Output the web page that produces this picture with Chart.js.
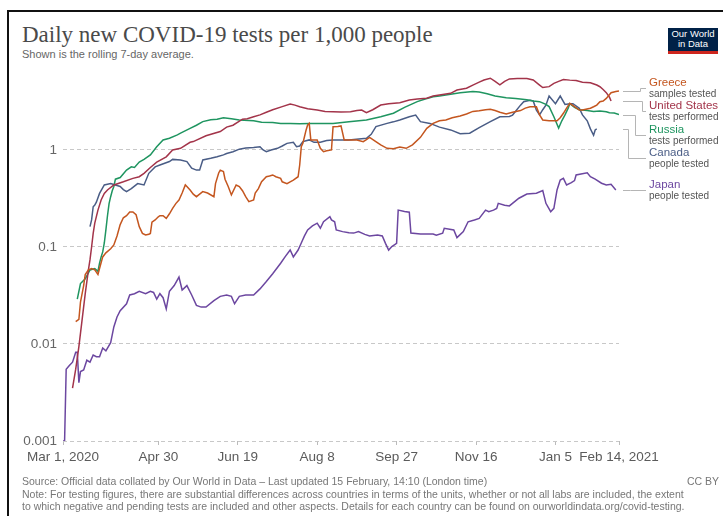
<!DOCTYPE html>
<html>
<head>
<meta charset="utf-8">
<title>Daily new COVID-19 tests per 1,000 people</title>
<script src="https://cdn.jsdelivr.net/npm/chart.js@4.4.1/dist/chart.umd.min.js"></script>
<style>
  html, body { margin: 0; padding: 0; background: #fff; }
  #page { position: relative; width: 723px; height: 516px; overflow: hidden; font-family: "Liberation Sans", Arial, sans-serif; }
  #frame { position: absolute; left: 7px; top: 10px; right: -4px; bottom: -4px; border-left: 2px solid #111; border-top: 2px solid #111; }
  #chart-box { position: absolute; left: 0; top: 0; width: 723px; height: 516px; }
  .title { position: absolute; left: 22px; top: 22px; font-family: "Liberation Serif", "DejaVu Serif", serif; font-size: 23px; color: #4a4a4a; white-space: nowrap; }
  .subtitle { position: absolute; left: 22px; top: 48px; font-size: 11px; color: #666; white-space: nowrap; }
  .logo { position: absolute; left: 668px; top: 28px; width: 50px; height: 22px; background: #002147; border-bottom: 3px solid #ce261e;
          color: #fff; font-family: "Liberation Sans Narrow", "Liberation Sans", sans-serif; font-size: 9.5px; line-height: 10px; text-align: center; padding-top: 1px; box-sizing: content-box; }
  .foot { position: absolute; left: 22px; font-size: 10.5px; color: #777; white-space: nowrap; }
  .cc { position: absolute; right: 4px; top: 475px; font-size: 10.5px; color: #777; }
</style>
</head>
<body>
<div id="page">
  <div id="frame"></div>
  <div class="title">Daily new COVID-19 tests per 1,000 people</div>
  <div class="subtitle">Shown is the rolling 7-day average.</div>
  <div class="logo">Our World<br>in Data</div>
  <div id="chart-box"><canvas id="tests-chart"></canvas></div>
  <div class="foot" style="top:475px">Source: Official data collated by Our World in Data – Last updated 15 February, 14:10 (London time)</div>
  <div class="cc">CC BY</div>
  <div class="foot" style="top:488px">Note: For testing figures, there are substantial differences across countries in terms of the units, whether or not all labs are included, the extent</div>
  <div class="foot" style="top:500px">to which negative and pending tests are included and other aspects. Details for each country can be found on ourworldindata.org/covid-testing.</div>
</div>

<script>
// x values are days counted from Mar 1, 2020
var xTickDays = [0, 60, 110, 160, 210, 260, 310, 350];
var xTickLabels = ['Mar 1, 2020', 'Apr 30', 'Jun 19', 'Aug 8', 'Sep 27', 'Nov 16', 'Jan 5', 'Feb 14, 2021'];
var yTickValues = [0.001, 0.01, 0.1, 1];
var yTickLabels = ['0.001', '0.01', '0.1', '1'];

var countries = ['Greece', 'United States', 'Russia', 'Canada', 'Japan'];
var units = ['samples tested', 'tests performed', 'tests performed', 'people tested', 'people tested'];

var greeceDays = [8, 10, 11, 13, 14, 16, 18, 20, 22, 23, 25, 27, 30, 32, 34, 36, 38, 40, 42, 44, 46, 48, 50, 52, 54, 55, 56, 58, 60, 61,
  63, 65, 67, 69, 71, 73, 75, 77, 78, 80, 82, 84, 86, 88, 91, 95, 96, 98, 99, 101, 102, 104, 106, 109, 111, 113, 115, 117, 120, 121,
  123, 125, 128, 130, 132, 134, 137, 138, 141, 143, 145, 148, 149, 150, 151, 152, 153, 154, 155, 156, 160, 162, 164, 166, 169, 170, 173, 175, 177, 181,
  185, 189, 191, 193, 196, 200, 204, 208, 212, 216, 220, 225, 229, 233, 237, 241, 245, 250, 254, 258, 262, 266, 269, 272, 275, 279, 283, 288, 291, 294,
  298, 300, 302, 306, 311, 313, 315, 317, 319, 322, 325, 327, 332, 334, 336, 338, 340, 342, 345, 348, 350];
var greeceTests = [0.017, 0.018, 0.027, 0.040, 0.052, 0.058, 0.060, 0.058, 0.052, 0.060, 0.079, 0.087, 0.096, 0.105, 0.13, 0.17, 0.2, 0.21, 0.23, 0.23, 0.215, 0.162, 0.138, 0.133, 0.135, 0.138, 0.18, 0.19, 0.205, 0.21,
  0.21, 0.197, 0.22, 0.25, 0.28, 0.305, 0.36, 0.436, 0.42, 0.387, 0.35, 0.33, 0.35, 0.372, 0.36, 0.33, 0.45, 0.58, 0.62, 0.60, 0.5, 0.42, 0.344, 0.436, 0.42, 0.38, 0.33, 0.293, 0.305, 0.36,
  0.40, 0.47, 0.53, 0.54, 0.553, 0.53, 0.51, 0.47, 0.45, 0.47, 0.49, 0.53, 0.7, 1.08, 1.17, 1.37, 1.6, 1.81, 1.88, 1.27, 1.27, 1.04, 0.96, 0.98, 1.0, 1.74, 1.75, 1.77, 1.27, 1.27,
  1.27, 1.22, 1.28, 1.35, 1.25, 1.13, 1.04, 1.03, 1.07, 1.04, 1.13, 1.35, 1.67, 1.88, 2.0, 2.04, 2.15, 2.24, 2.35, 2.5, 2.54, 2.6, 2.63, 2.55, 2.45, 2.35, 2.45, 2.55, 2.7, 2.79,
  2.79, 2.3, 2.04, 2.0, 2.0, 2.15, 2.39, 2.7, 3.03, 2.8, 2.58, 2.58, 2.69, 2.79, 2.9, 3.15, 3.2, 3.4, 3.9, 4.0, 4.05];

var usDays = [6, 8, 10, 12, 14, 16, 17, 18, 19, 20, 22, 24, 26, 28, 32, 38, 44, 48, 51, 55, 59, 65, 69, 74, 80, 82, 90, 99, 103, 107,
  113, 116, 120, 124, 128, 132, 138, 143, 146, 149, 154, 160, 165, 170, 175, 181, 185, 188, 191, 195, 200, 205, 212, 218, 223, 229, 233, 237, 244, 248,
  254, 258, 262, 265, 269, 272, 275, 278, 281, 286, 292, 296, 300, 302, 306, 309, 312, 315, 319, 323, 327, 332, 336, 338, 340, 342, 344, 345];
var usTests = [0.0035, 0.0055, 0.0094, 0.0176, 0.033, 0.058, 0.074, 0.10, 0.138, 0.176, 0.24, 0.305, 0.357, 0.387, 0.436, 0.47, 0.51, 0.53, 0.575, 0.66, 0.75, 0.85, 1.0, 1.04, 1.2, 1.22, 1.4, 1.55, 1.72, 1.8,
  2.08, 2.1, 2.2, 2.3, 2.45, 2.6, 2.8, 2.98, 2.9, 2.79, 2.66, 2.58, 2.5, 2.48, 2.47, 2.48, 2.55, 2.58, 2.42, 2.6, 2.91, 3.0, 3.07, 3.28, 3.35, 3.42, 3.6, 3.69, 3.84, 4.15,
  4.33, 4.67, 5.0, 5.27, 5.49, 5.1, 4.7, 5.1, 5.4, 5.45, 5.45, 5.27, 4.67, 4.4, 4.5, 4.87, 5.1, 5.33, 5.25, 5.19, 5.0, 4.94, 4.67, 4.49, 4.2, 3.9, 3.5, 3.2];

var russiaDays = [9, 11, 14, 17, 20, 22, 23, 24, 25, 26, 27, 28, 29, 30, 31, 32, 33, 36, 40, 43, 45, 48, 51, 55, 59, 63, 67, 72, 74, 80,
  84, 88, 93, 97, 101, 106, 111, 120, 125, 132, 137, 143, 149, 155, 162, 170, 180, 191, 200, 208, 215, 223, 228, 233, 237, 244, 250, 258, 262, 267,
  272, 279, 285, 292, 296, 300, 304, 306, 309, 312, 314, 316, 318, 319, 322, 325, 330, 334, 338, 342, 344, 347, 350];
var russiaTests = [0.029, 0.042, 0.047, 0.058, 0.060, 0.056, 0.068, 0.079, 0.089, 0.11, 0.15, 0.21, 0.28, 0.33, 0.38, 0.42, 0.50, 0.52, 0.62, 0.67, 0.66, 0.75, 0.8, 0.89, 1.08, 1.27, 1.32, 1.43, 1.49, 1.67,
  1.8, 1.96, 2.05, 2.07, 2.15, 2.1, 2.04, 2.0, 1.93, 1.92, 1.88, 1.88, 1.86, 1.87, 1.88, 1.88, 1.95, 2.04, 2.2, 2.39, 2.75, 3.15, 3.35, 3.54, 3.6, 3.75, 3.9, 4.0, 3.95, 3.8,
  3.6, 3.45, 3.4, 3.3, 3.2, 3.15, 2.95, 2.8, 2.2, 1.68, 2.0, 2.3, 2.7, 3.0, 2.75, 2.6, 2.55, 2.5, 2.52, 2.48, 2.42, 2.40, 2.32];

var canadaDays = [17, 18, 19, 20, 21, 23, 26, 30, 33, 36, 38, 40, 43, 47, 51, 54, 58, 61, 67, 69, 74, 78, 81, 84, 86, 88, 93, 97, 101, 103,
  107, 111, 115, 120, 124, 126, 128, 131, 135, 138, 141, 145, 147, 149, 151, 155, 158, 162, 166, 170, 180, 191, 194, 197, 204, 208, 212, 218, 222, 225,
  231, 237, 244, 250, 256, 262, 269, 275, 281, 283, 288, 290, 294, 296, 298, 300, 302, 304, 306, 310, 313, 316, 319, 321, 325, 327, 330, 332, 334, 335, 336];
var canadaTests = [0.162, 0.19, 0.26, 0.27, 0.29, 0.357, 0.436, 0.45, 0.436, 0.42, 0.39, 0.372, 0.40, 0.45, 0.436, 0.575, 0.67, 0.70, 0.76, 0.80, 0.79, 0.76, 0.65, 0.62, 0.62, 0.79, 0.82, 0.85, 0.89, 0.92,
  0.96, 1.02, 1.05, 1.06, 1.08, 1.0, 0.96, 1.0, 1.04, 1.1, 1.17, 1.2, 1.08, 1.1, 1.22, 1.27, 1.2, 1.2, 1.25, 1.27, 1.27, 1.32, 1.45, 1.74, 1.88, 1.95, 2.04, 2.2, 2.29, 1.96,
  1.88, 1.72, 1.61, 1.47, 1.49, 1.7, 1.96, 2.2, 2.22, 2.29, 2.9, 3.15, 3.25, 3.2, 2.58, 2.3, 2.6, 2.9, 3.6, 3.0, 3.6, 2.95, 3.0, 3.0, 2.7, 2.3, 2.0, 1.65, 1.42, 1.61, 1.65];

var japanDays = [0, 1, 2, 4, 6, 8, 9, 10, 11, 13, 15, 17, 19, 21, 23, 25, 27, 30, 32, 34, 36, 40, 42, 45, 48, 52, 55, 57, 59, 61,
  63, 65, 67, 70, 73, 75, 78, 81, 84, 87, 90, 95, 99, 103, 106, 108, 111, 115, 120, 124, 128, 132, 137, 140, 143, 145, 148, 150, 152, 154,
  157, 160, 162, 164, 168, 169, 171, 172, 176, 180, 183, 186, 190, 193, 198, 201, 203, 205, 207, 210, 211, 215, 218, 219, 225, 233, 235, 239, 240, 246,
  248, 252, 255, 259, 262, 266, 268, 271, 273, 274, 278, 281, 287, 292, 298, 302, 304, 307, 309, 311, 313, 315, 317, 320, 322, 323, 330, 332, 335, 339,
  342, 345, 348];
var japanTests = [0.001, 0.001, 0.0055, 0.006, 0.0065, 0.0082, 0.0082, 0.0040, 0.0052, 0.0054, 0.0068, 0.0065, 0.0077, 0.0074, 0.0074, 0.0091, 0.0085, 0.0103, 0.015, 0.019, 0.022, 0.026, 0.032, 0.033, 0.035, 0.033, 0.035, 0.034, 0.029, 0.033,
  0.030, 0.023, 0.035, 0.040, 0.049, 0.036, 0.040, 0.032, 0.025, 0.024, 0.024, 0.028, 0.031, 0.032, 0.031, 0.026, 0.031, 0.032, 0.032, 0.037, 0.044, 0.053, 0.068, 0.080, 0.093, 0.079, 0.093, 0.11, 0.13, 0.15,
  0.165, 0.176, 0.156, 0.182, 0.205, 0.19, 0.182, 0.15, 0.144, 0.140, 0.139, 0.144, 0.135, 0.130, 0.133, 0.130, 0.109, 0.093, 0.101, 0.109, 0.24, 0.232, 0.228, 0.139, 0.136, 0.136, 0.132, 0.139, 0.156, 0.150,
  0.125, 0.144, 0.182, 0.19, 0.197, 0.24, 0.231, 0.24, 0.25, 0.282, 0.27, 0.265, 0.318, 0.352, 0.358, 0.381, 0.282, 0.231, 0.25, 0.387, 0.49, 0.51, 0.436, 0.46, 0.483, 0.553, 0.583, 0.53, 0.50, 0.454,
  0.436, 0.443, 0.387];

var lineColors = ['#c4561f', '#a3344a', '#1f9560', '#4a5d86', '#6c47a0'];
// label block centre (first line) and bend of each leader line
var labelTop = [83, 106, 130, 153, 185];
var bendX = [640, 642, 635, 628, 630];

function toPoints(days, vals) {
    return days.map(function (d, i) { return { x: d, y: vals[i] }; });
}

var series = [
    toPoints(greeceDays, greeceTests),
    toPoints(usDays, usTests),
    toPoints(russiaDays, russiaTests),
    toPoints(canadaDays, canadaTests),
    toPoints(japanDays, japanTests)
];

var fontFamily = '"Liberation Sans", Arial, sans-serif';

// country names with leader lines to the end of each line
var lineLabels = {
    id: 'lineLabels',
    afterDatasetsDraw: function (chart) {
        var ctx = chart.ctx;
        var yScale = chart.scales.y;
        var startX = chart.chartArea.right + 4;
        ctx.save();
        chart.data.datasets.forEach(function (ds, i) {
            var last = ds.data[ds.data.length - 1];
            var endY = Math.round(yScale.getPixelForValue(last.y)) + 0.5;
            var tgtY = Math.round(labelTop[i] + 5) + 0.5;
            ctx.strokeStyle = '#b5b5b5';
            ctx.lineWidth = 1;
            ctx.beginPath();
            ctx.moveTo(startX, endY);
            ctx.lineTo(bendX[i] + 0.5, endY);
            ctx.lineTo(bendX[i] + 0.5, tgtY);
            ctx.lineTo(646, tgtY);
            ctx.stroke();

            ctx.textBaseline = 'middle';
            ctx.textAlign = 'left';
            ctx.fillStyle = ds.borderColor;
            ctx.font = '11.5px ' + fontFamily;
            ctx.fillText(countries[i], 649, labelTop[i]);
            ctx.fillStyle = '#555';
            ctx.font = '10px ' + fontFamily;
            ctx.fillText(units[i], 649, labelTop[i] + 11);
        });
        ctx.restore();
    }
};

var ctx = document.getElementById('tests-chart').getContext('2d');
var testsChart = new Chart(ctx, {
    type: 'line',
    data: {
        datasets: series.map(function (pts, i) {
            return {
                label: countries[i],
                data: pts,
                borderColor: lineColors[i],
                borderWidth: 1.5,
                pointRadius: 0,
                tension: 0,
                fill: false
            };
        })
    },
    options: {
        responsive: true,
        maintainAspectRatio: false,
        animation: false,
        devicePixelRatio: 1,
        layout: { padding: { left: 13, right: 104, top: 74.5, bottom: 45 } },
        plugins: {
            legend: { display: false },
            tooltip: { enabled: false }
        },
        scales: {
            x: {
                type: 'linear',
                min: 0,
                max: 350,
                afterBuildTicks: function (axis) {
                    axis.ticks = xTickDays.map(function (d) { return { value: d }; });
                },
                afterFit: function (axis) { axis.height = 30; },
                border: { display: false },
                grid: { drawOnChartArea: false, drawTicks: true, tickLength: 4, color: '#bbb' },
                ticks: {
                    autoSkip: false,
                    maxRotation: 0,
                    padding: 4,
                    color: '#5b5b5b',
                    font: { family: fontFamily, size: 13.5 },
                    callback: function (value, index) { return xTickLabels[index]; }
                }
            },
            y: {
                type: 'logarithmic',
                min: 0.001,
                max: 6,
                afterBuildTicks: function (axis) {
                    axis.ticks = yTickValues.map(function (v) { return { value: v }; });
                },
                afterFit: function (axis) { axis.width = 50; },
                // dashed horizontal grid, no axis line
                border: { display: false, dash: [4, 3] },
                grid: { drawTicks: false, color: '#c8c8c8', lineWidth: 1 },
                ticks: {
                    padding: 6,
                    color: '#666',
                    font: { family: fontFamily, size: 13.5 },
                    callback: function (value, index) { return yTickLabels[index]; }
                }
            }
        }
    },
    plugins: [lineLabels]
});
</script>
</body>
</html>
